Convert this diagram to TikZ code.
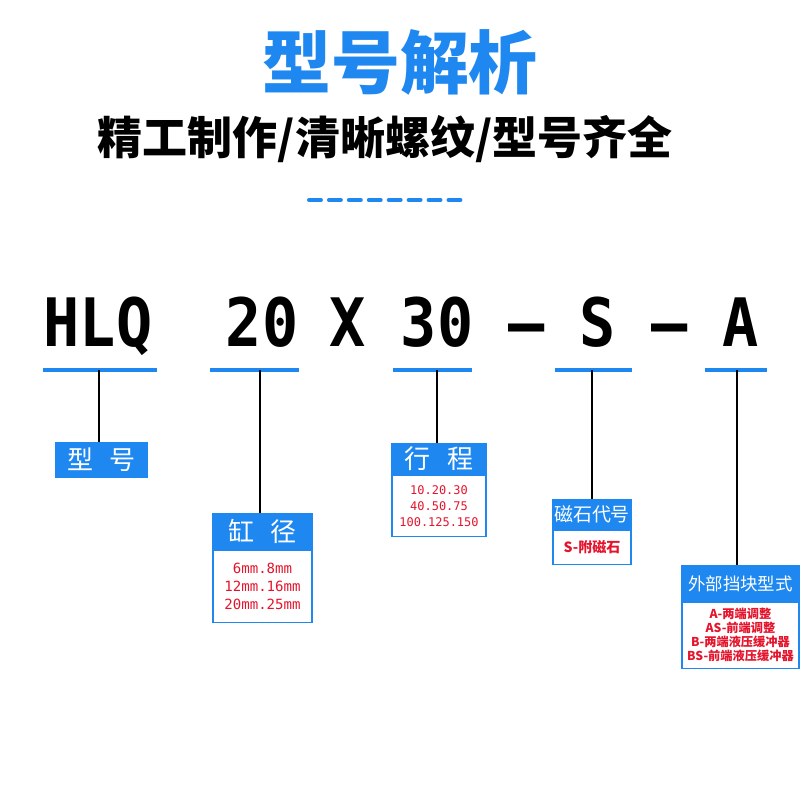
\documentclass[tikz,border=0pt]{standalone}
\usepackage{fontspec}
\newfontfamily\cjk{Noto Sans CJK SC}
\newfontfamily\codefont[FakeStretch=0.9]{DejaVu Sans Mono}
\newfontfamily\numfont{DejaVu Sans Mono}
\usepackage{xcolor}
\usepackage{tikz}
\usetikzlibrary{positioning}
\definecolor{tblue}{RGB}{30,136,240}
\definecolor{tred}{RGB}{228,20,44}
\newdimen\upx \upx=0.025cm

\begin{document}
\begin{tikzpicture}[x=0.025cm,y=-0.025cm,
  every node/.style={inner sep=0pt},
  code/.style={anchor=base,font=\codefont\bfseries\fontsize{47.5}{50}\selectfont},
  uline/.style={tblue,line width=2.8pt},
  wire/.style={black,line width=1.3pt},
  hd/.style={fill=tblue,draw=tblue,line width=0.9pt,text=white,font=\cjk\fontsize{18.5}{20}\selectfont},
  bd/.style={draw=tblue,fill=white,line width=0.9pt,text=tred,align=center}]
 \path[fill=white,use as bounding box] (0,0) rectangle (800,800);
 % heading
 \node[text=tblue,font=\cjk\bfseries\fontsize{49}{52}\selectfont] (title) at (400,62) {型号解析};
 \node[font=\cjk\bfseries\fontsize{32}{34}\selectfont] (sub) at (385,139) {精工制作/清晰螺纹/型号齐全};
 \draw[tblue,line width=2.8pt,line cap=round,dash pattern=on 8.5pt off 5.67pt] (309,200) -- (461,200);
 % model code
 \node[code] (cHLQ) at (98,346) {HLQ};
 \node[code] (c20)  at (262,346) {20};
 \node[code] (cX)   at (348,346) {X};
 \node[code] (c30)  at (437,346) {30};
 \node[code] (cD1)  at (527,346) {–};
 \node[code] (cS)   at (598,346) {S};
 \node[code] (cD2)  at (670,346) {–};
 \node[code] (cA)   at (741,346) {A};
 \foreach \n/\a/\b/\m in {HLQ/43/157/99,20/210/299/260,30/393/472/437,S/555/632/592,A/705/767/737}{
   \coordinate (u\n) at (\m,370);
   \draw[uline] (\a,370) -- (\b,370);
 }
 % boxes
 \node[hd,minimum width=91\upx,minimum height=34\upx] (hXH) at (101.5,460) {型\hspace{0.65em}号};
 \node[hd,minimum width=99\upx,minimum height=35\upx] (hGJ) at (262.5,531.5) {缸\hspace{0.65em}径};
 \node[bd,minimum width=99\upx,minimum height=72\upx,below=0pt of hGJ,
   font=\numfont\fontsize{10}{13}\selectfont] (bGJ) {6mm.8mm\\12mm.16mm\\20mm.25mm};
 \node[hd,minimum width=94\upx,minimum height=30\upx] (hXC) at (439,459) {行\hspace{0.65em}程};
 \node[bd,minimum width=94\upx,minimum height=61\upx,below=0pt of hXC,
   font=\numfont\fontsize{8.5}{11.3}\selectfont] (bXC) {10.20.30\\40.50.75\\100.125.150};
 \node[hd,minimum width=78\upx,minimum height=29\upx,font=\cjk\fontsize{13.5}{15}\selectfont] (hCS) at (592,514.5) {磁石代号};
 \node[bd,minimum width=78\upx,minimum height=34\upx,below=0pt of hCS,
   font=\cjk\bfseries\fontsize{10}{12}\selectfont] (bCS) {S-附磁石};
 \node[hd,minimum width=117\upx,minimum height=35\upx,font=\cjk\fontsize{12.4}{14}\selectfont] (hWB) at (740.5,583.5) {外部挡块型式};
 \node[bd,minimum width=117\upx,minimum height=66\upx,below=0pt of hWB,
   font=\cjk\bfseries\fontsize{8.7}{10}\selectfont] (bWB) {A-两端调整\\AS-前端调整\\B-两端液压缓冲器\\BS-前端液压缓冲器};
 \foreach \u/\h in {uHLQ/hXH,u20/hGJ,u30/hXC,uS/hCS,uA/hWB}
   \draw[wire] (\u) -- (\u |- \h.north);
\end{tikzpicture}
\end{document}
